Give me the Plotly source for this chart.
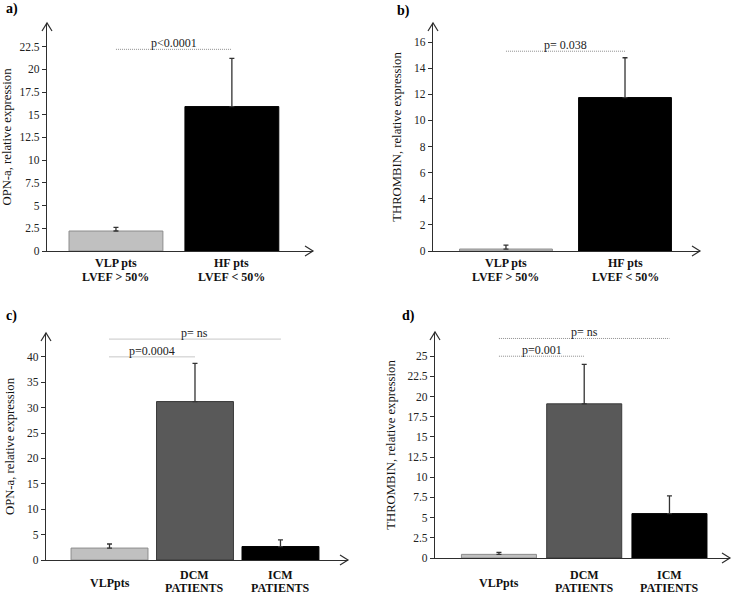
import plotly.graph_objects as go

# ---- data ----
cats_top = [["<b>VLP pts</b>", "<b>LVEF &gt; 50%</b>"], ["<b>HF pts</b>", "<b>LVEF &lt; 50%</b>"]]
cats_bottom = [["<b>VLPpts</b>"], ["<b>DCM</b>", "<b>PATIENTS</b>"], ["<b>ICM</b>", "<b>PATIENTS</b>"]]

opn_hf = [2.2, 15.9]
opn_hf_err = [0.4, 5.3]
thr_hf = [0.15, 11.75]
thr_hf_err = [0.3, 3.05]
opn_cm = [2.35, 31.2, 2.65]
opn_cm_err = [0.8, 7.5, 1.3]
thr_cm = [0.45, 19.1, 5.5]
thr_cm_err = [0.25, 4.9, 2.2]

ticks_a = [0, 2.5, 5, 7.5, 10, 12.5, 15, 17.5, 20, 22.5]
ticks_b = [0, 2, 4, 6, 8, 10, 12, 14, 16]
ticks_c = [0, 5, 10, 15, 20, 25, 30, 35, 40]
ticks_d = [0, 2.5, 5, 7.5, 10, 12.5, 15, 17.5, 20, 22.5, 25]

colors_top = ["#c0c0c0", "#000000"]
colors_bottom = ["#c0c0c0", "#595959", "#000000"]
outline_top = ["#8c8c8c", "#000000"]
outline_bottom = ["#8c8c8c", "#3a3a3a", "#000000"]

# significance brackets: (from, to, level, label)
sig_a = [(0, 1, 22.2, "p&lt;0.0001")]
sig_b = [(0, 1, 15.3, "p= 0.038")]
sig_c = [(0, 1, 40.0, "p=0.0004"), (0, 2, 43.5, "p= ns")]
sig_d = [(0, 1, 25.0, "p=0.001"), (0, 2, 27.2, "p= ns")]

W, H = 733, 595
FONT = "Liberation Serif"

# panel layout in pixels: x-left, x-right, y-top, y-bottom(zero line)
panels = [
    dict(name="a)", lab=(4, 9), box=(47, 313, 23, 251), xr=[-0.595, 1.70], yr=[0, 25.1],
         ticks=ticks_a, cats=cats_top, cat_y=[263, 277], y=opn_hf, err=opn_hf_err,
         col=colors_top, out=outline_top, bw=0.81, sig=sig_a, title="OPN-a, relative expression"),
    dict(name="b)", lab=(395, 11), box=(433, 700, 23, 251), xr=[-0.613, 1.63], yr=[0, 17.46],
         ticks=ticks_b, cats=cats_top, cat_y=[263, 277], y=thr_hf, err=thr_hf_err,
         col=colors_top, out=outline_top, bw=0.78, sig=sig_b, title="THROMBIN, relative expression"),
    dict(name="c)", lab=(4, 316), box=(46, 348, 333, 560), xr=[-0.743, 2.79], yr=[0, 44.7],
         ticks=ticks_c, cats=cats_bottom, cat_y=[575, 588], y=opn_cm, err=opn_cm_err,
         col=colors_bottom, out=outline_bottom, bw=0.90, sig=sig_c, title="OPN-a, relative expression"),
    dict(name="d)", lab=(400, 316), box=(435, 730, 332, 558), xr=[-0.75, 2.71], yr=[0, 28.0],
         ticks=ticks_d, cats=cats_bottom, cat_y=[575, 588], y=thr_cm, err=thr_cm_err,
         col=colors_bottom, out=outline_bottom, bw=0.88, sig=sig_d, title="THROMBIN, relative expression"),
]

fig = go.Figure()
shapes = []
annotations = []
layout_axes = {}
AX = "#2e2e2e"

for i, p in enumerate(panels):
    n = "" if i == 0 else str(i + 1)
    xa, ya = "x" + n, "y" + n
    x0, x1, yt, yb = p["box"]
    n_cat = len(p["cats"])
    xs = list(range(n_cat))

    fig.add_trace(go.Bar(
        x=xs, y=p["y"], xaxis=xa, yaxis=ya, width=p["bw"],
        marker=dict(color=p["col"], line=dict(color=p["out"], width=1)),
        error_y=dict(type="data", symmetric=False, array=p["err"], arrayminus=[0] * n_cat,
                     color="#333333", thickness=1.3, width=2.5),
        showlegend=False, hoverinfo="skip",
    ))

    layout_axes["xaxis" + n] = dict(
        domain=[x0 / W, x1 / W], range=p["xr"], anchor=ya, automargin=False,
        showticklabels=False, ticks="", showgrid=False, zeroline=False,
        showline=True, linecolor=AX, linewidth=1.2, fixedrange=True,
    )
    layout_axes["yaxis" + n] = dict(
        domain=[1 - yb / H, 1 - yt / H], range=p["yr"], anchor=xa, automargin=False,
        tickvals=p["ticks"], ticktext=["%g" % v for v in p["ticks"]],
        ticks="outside", ticklen=4, tickcolor=AX,
        showgrid=False, zeroline=False, showline=True, linecolor=AX, linewidth=1.2,
        tickfont=dict(family=FONT, size=11.5, color="#222222"),
        title=dict(text=p["title"], font=dict(family=FONT, size=12.7, color="#111111"), standoff=9),
        fixedrange=True,
    )

    # category labels, one annotation per text line
    for k, lines in enumerate(p["cats"]):
        rows = p["cat_y"] if len(lines) > 1 else [sum(p["cat_y"]) / 2 + 1]
        for txt, py in zip(lines, rows):
            annotations.append(dict(x=k, y=1 - py / H, xref=xa, yref="paper", text=txt,
                                    showarrow=False, xanchor="center", yanchor="middle",
                                    font=dict(family=FONT, size=12, color="#111111")))

    # axis arrowheads (open chevrons), placed in paper coords so they are not clipped
    shapes.append(dict(type="path", xref="paper", yref="paper", xsizemode="pixel", ysizemode="pixel",
                       xanchor=x0 / W, yanchor=1 - yt / H,
                       path="M -5,-8 L 0,0 L 5,-8", line=dict(color=AX, width=1.2)))
    shapes.append(dict(type="path", xref="paper", yref="paper", xsizemode="pixel", ysizemode="pixel",
                       xanchor=x1 / W, yanchor=1 - yb / H,
                       path="M -8,5 L 0,0 L -8,-5", line=dict(color=AX, width=1.2)))

    # significance lines and labels
    for a, b, lvl, txt in p["sig"]:
        shapes.append(dict(type="line", xref=xa, yref=ya, x0=a, x1=b, y0=lvl, y1=lvl,
                           line=dict(color="#8f8f8f", width=1, dash="1px,1px")))
        annotations.append(dict(x=(a + b) / 2, y=lvl, xref=xa, yref=ya, text=txt,
                                showarrow=False, yanchor="bottom", yshift=-3,
                                font=dict(family=FONT, size=12, color="#222222")))

    # panel letter
    annotations.append(dict(x=p["lab"][0] / W, y=1 - p["lab"][1] / H, xref="paper", yref="paper",
                            text="<b>" + p["name"] + "</b>", showarrow=False,
                            xanchor="left", yanchor="middle",
                            font=dict(family=FONT, size=14, color="#000000")))

fig.update_layout(
    width=W, height=H,
    margin=dict(l=0, r=0, t=0, b=0),
    paper_bgcolor="white", plot_bgcolor="white",
    hovermode=False,
    shapes=shapes, annotations=annotations,
    **layout_axes,
)

# drop the default page margin so the figure sits at the window's corner
fig.write_html("out.html", config={"displayModeBar": False},
               post_script="document.body.style.margin='0';document.body.style.overflow='hidden';")
